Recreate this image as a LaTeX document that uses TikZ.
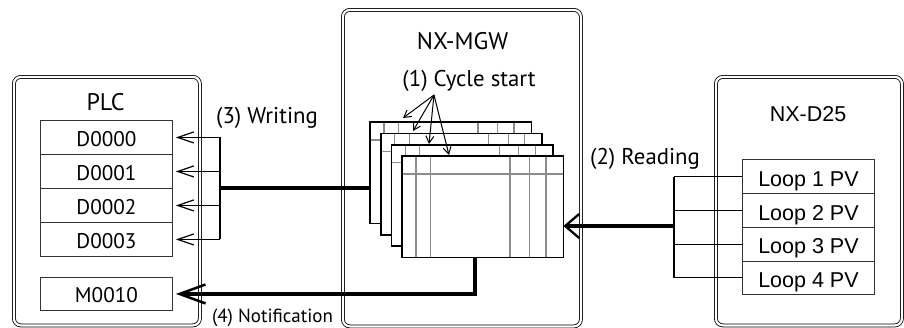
\documentclass[tikz,border=0pt]{standalone}
\usepackage{fontspec}
\setmainfont{PT Sans}
\newfontfamily\arialf{Liberation Sans}
\usetikzlibrary{arrows.meta,calc}
\begin{document}
\begin{tikzpicture}[x=1pt,y=-1pt,
  devbox/.style={draw=black, double=white, double distance=2.2pt, line width=0.8pt,
    rounded corners=7pt, anchor=north west, inner sep=0pt},
  regbox/.style={draw=black!80, line width=0.9pt, minimum width=132pt, minimum height=34pt,
    anchor=north west, inner sep=0pt},
  loopbox/.style={regbox, minimum height=33.75pt},
  reg/.style={inner sep=0pt, anchor=base, font=\fontsize{21.2}{25}\selectfont},
  lbl/.style={inner sep=0pt, anchor=base, font=\fontsize{22.8}{27}\selectfont},
  ttl/.style={inner sep=0pt, anchor=base, font=\fontsize{24}{28}\selectfont},
  arl/.style={inner sep=0pt, anchor=base, font=\arialf\fontsize{21.5}{25}\selectfont},
  tablebox/.style={fill=white, minimum width=161pt, minimum height=101pt, anchor=north west, inner sep=0pt},
  colline/.style={draw=black!45, line width=1.3pt},
  tborder/.style={draw=black, line width=1.6pt},
  conn/.style={line width=1.1pt},
  thinarr/.style={line width=1.2pt, -{Straight Barb[length=16pt,width=11pt]}, shorten >=3pt},
  cyclearr/.style={line width=1pt, -{Straight Barb[length=7pt,width=8pt]}},
  fat/.style={line width=4.5pt},
  fatarrA/.style={line width=4.5pt, -{Straight Barb[length=26pt,width=19pt,line width=2.5pt]}, shorten >=3pt},
  fatarrB/.style={line width=4.5pt, -{Straight Barb[length=14pt,width=24pt,line width=2.3pt]}}
]
\useasboundingbox (0,0) rectangle (904,327);

% device boxes
\node[devbox, minimum width=186pt, minimum height=248.5pt] (plc) at (13.5,76.5) {};
\node[devbox, minimum width=238pt, minimum height=316.5pt] (mgw) at (342.5,9.5) {};
\node[devbox, minimum width=186pt, minimum height=248.5pt] (d25) at (715.5,76.5) {};

% titles
\node[ttl] (plct) at (105.5,110) {PLC};
\node[ttl] (mgwt) at (462.5,49) {NX-MGW};
\node[arl] (d25t) at (808,121) {NX-D25};

% PLC registers
\foreach \i/\t in {0/D0000,1/D0001,2/D0002,3/D0003}{
  \node[regbox] (d\i) at (40,{120+34*\i}) {};
  \node[reg] (d\i t) at ($(d\i.center)+(0,9)$) {\t};
}
\node[regbox, minimum height=33pt] (m10) at (40,277) {};
\node[reg] (m10t) at ($(m10.center)+(0,9)$) {M0010};

% NX-D25 loops
\foreach \i in {1,2,3,4}{
  \node[loopbox] (l\i) at (742,{159.3+33.75*(\i-1)}) {};
  \node[arl] (l\i t) at ($(l\i.center)+(0,9.7)$) {Loop \i\ PV};
}

% tables
\foreach \n/\x/\y in {1/370/122, 2/380.7/133.3, 3/391.3/144.7, 4/402/156}{
  \node[tablebox] (t\n) at (\x,\y) {};
  \foreach \c in {14,28.5,108,127.5,144}
    \draw[colline] ($(t\n.north west)+(\c,0)$) -- ($(t\n.south west)+(\c,0)$);
  \draw[colline] ($(t\n.north west)+(0,18)$) -- ($(t\n.north east)+(0,18)$);
  \draw[tborder] (t\n.north west) rectangle (t\n.south east);
}

% (1) Cycle start
\node[lbl] (cyc) at (469,86) {(1) Cycle start};
\coordinate (cs) at (434,95);
\coordinate (c1) at ($(t1.north west)+(33,-4)$);
\coordinate (c2) at ($(t2.north west)+(32.3,-2.3)$);
\coordinate (c3) at ($(t3.north west)+(37.7,-0.7)$);
\coordinate (c4) at ($(t4.north west)+(47,-1)$);
\foreach \k in {1,2,3,4} \draw[cyclearr] (cs) -- (c\k);

% (3) Writing
\node[lbl] (wr) at (267,123) {(3) Writing};
\coordinate (wj) at (220,188);
\draw[conn] (d0.east -| wj) -- (d3.east -| wj);
\foreach \i in {0,1,2,3} \draw[thinarr] (d\i.east -| wj) -- (d\i.east);
\draw[fat] (wj) -- (wj -| t1.west);

% (2) Reading
\node[lbl] (rd) at (645,164) {(2) Reading};
\coordinate (rj) at (674,226);
\draw[conn] (l1.west -| rj) -- (l4.west -| rj);
\foreach \i in {1,2,3,4} \draw[conn] (l\i.west -| rj) -- (l\i.west);
\draw[fatarrB] (rj) -- (rj -| t4.east);

% (4) Notification
\node[lbl, font=\fontsize{19}{23}\selectfont] (nt) at (272.5,322.5) {(4) Notification};
\coordinate (nb) at ($(t4.south west)+(73,0)$);
\draw[fatarrA] (nb) |- (m10.east);
\end{tikzpicture}
\end{document}
